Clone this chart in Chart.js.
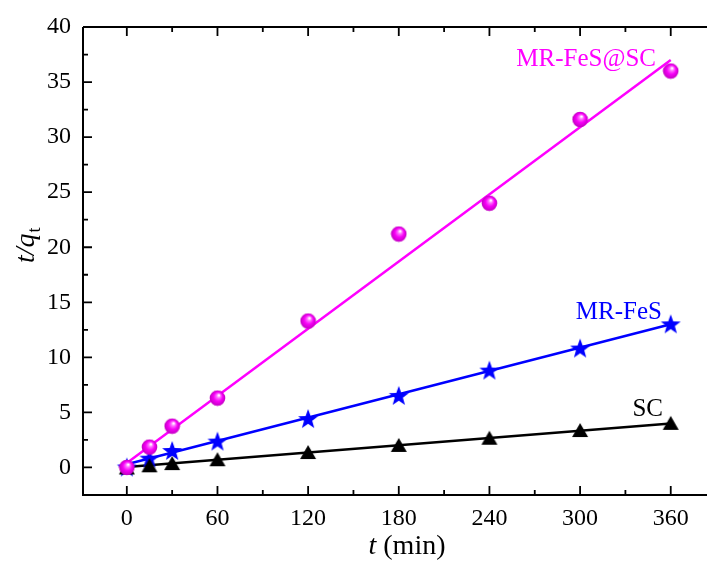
<!DOCTYPE html>
<html><head><meta charset="utf-8">
<script src="https://cdn.jsdelivr.net/npm/chart.js@4.4.0/dist/chart.umd.min.js"></script>
<style>html,body{margin:0;padding:0;background:#fff;overflow:hidden}#wrap{width:707px;height:561px;position:relative}</style>
</head><body><div id="wrap"><canvas id="c" width="707" height="561"></canvas></div>
<script>
const times = [0, 15, 30, 60, 120, 180, 240, 300, 360];
const mrFeSSC = [0, 1.85, 3.75, 6.3, 13.3, 21.2, 24.0, 31.6, 36.0];
const mrFeS = [0, 0.8, 1.5, 2.35, 4.4, 6.5, 8.8, 10.8, 13.0];
const sc = [0, 0.2, 0.4, 0.75, 1.4, 2.05, 2.7, 3.4, 4.05];
const fitX = [0, 360];
const fitMrFeSSC = [0.4, 37.0];
const fitMrFeS = [0.3, 13.0];
const fitSC = [0.05, 4.0];
const xTicks = [0, 60, 120, 180, 240, 300, 360];
const yTicks = [0, 5, 10, 15, 20, 25, 30, 35, 40];
const xMinor = [-30, 30, 90, 150, 210, 270, 330];
const yMinor = [-2.5, 2.5, 7.5, 12.5, 17.5, 22.5, 27.5, 32.5, 37.5];

const FONT = '"Liberation Serif", "Times New Roman", serif';

function mk(w, h, draw) { const c = document.createElement('canvas'); c.width = w; c.height = h; draw(c.getContext('2d')); return c; }
const sphere = mk(17, 17, g => {
  const r = 7.8, cx = 8.5, cy = 8.5;
  const gr = g.createRadialGradient(cx + 1.5, cy - 3, 0.5, cx, cy, r);
  gr.addColorStop(0, '#ffffff'); gr.addColorStop(0.22, '#ff70ff'); gr.addColorStop(0.55, '#f800f8'); gr.addColorStop(1, '#c000c0');
  g.fillStyle = gr; g.beginPath(); g.arc(cx, cy, r, 0, Math.PI * 2); g.fill();
});
const star = mk(22, 22, g => {
  const cx = 11, cy = 11.5, R = 10.5, r = 4.3;
  g.fillStyle = '#0000ff'; g.beginPath();
  for (let i = 0; i < 10; i++) { const a = -Math.PI / 2 + i * Math.PI / 5; const rr = i % 2 ? r : R; g.lineTo(cx + rr * Math.cos(a), cy + rr * Math.sin(a)); }
  g.closePath(); g.fill();
});
const tri = mk(18, 16, g => {
  g.fillStyle = '#000'; g.beginPath(); g.moveTo(9, 1); g.lineTo(17, 15); g.lineTo(1, 15); g.closePath(); g.fill();
});

const pts = (xs, ys) => xs.map((x, i) => ({ x, y: ys[i] }));

const frame = {
  id: 'frame',
  afterDraw(chart) {
    const { ctx, chartArea: a, scales: { x, y } } = chart;
    ctx.save();
    ctx.strokeStyle = '#000'; ctx.lineWidth = 2;
    ctx.beginPath();
    ctx.moveTo(a.left, a.top); ctx.lineTo(a.left, a.bottom); ctx.lineTo(a.right, a.bottom);
    ctx.moveTo(a.left, a.top); ctx.lineTo(a.right, a.top);
    ctx.stroke();
    ctx.lineWidth = 1.8;
    ctx.beginPath();
    xTicks.forEach(v => { const p = x.getPixelForValue(v); ctx.moveTo(p, a.bottom); ctx.lineTo(p, a.bottom - 9); ctx.moveTo(p, a.top); ctx.lineTo(p, a.top + 9); });
    xMinor.forEach(v => { const p = x.getPixelForValue(v); if (p <= a.left + 1) return; ctx.moveTo(p, a.bottom); ctx.lineTo(p, a.bottom - 5); ctx.moveTo(p, a.top); ctx.lineTo(p, a.top + 5); });
    yTicks.forEach(v => { const p = y.getPixelForValue(v); ctx.moveTo(a.left, p); ctx.lineTo(a.left + 9, p); });
    yMinor.forEach(v => { const p = y.getPixelForValue(v); if (p >= a.bottom - 1) return; ctx.moveTo(a.left, p); ctx.lineTo(a.left + 5, p); });
    ctx.stroke();
    // series labels
    ctx.font = '25px ' + FONT; ctx.textAlign = 'right'; ctx.textBaseline = 'alphabetic';
    ctx.fillStyle = '#ff00ff'; ctx.fillText('MR-FeS@SC', 656, 66);
    ctx.fillStyle = '#0000ff'; ctx.fillText('MR-FeS', 662, 319);
    ctx.fillStyle = '#000000'; ctx.fillText('SC', 663, 416);
    // x title
    ctx.fillStyle = '#000';
    ctx.textAlign = 'left';
    const t1 = 't', t2 = ' (min)';
    ctx.font = 'italic 28px ' + FONT; const w1 = ctx.measureText(t1).width;
    ctx.font = '28px ' + FONT; const w2 = ctx.measureText(t2).width;
    let sx = 407 - (w1 + w2) / 2;
    ctx.font = 'italic 28px ' + FONT; ctx.fillText(t1, sx, 554);
    ctx.font = '28px ' + FONT; ctx.fillText(t2, sx + w1, 554);
    // y title
    ctx.save();
    ctx.translate(34, 263); ctx.rotate(-Math.PI / 2);
    ctx.font = 'italic 28px ' + FONT; const wa = ctx.measureText('t/q').width;
    ctx.fillText('t/q', 0, 0);
    ctx.font = '18px ' + FONT; ctx.fillText('t', wa + 1, 6);
    ctx.restore();
    ctx.restore();
  }
};

new Chart(document.getElementById('c'), {
  type: 'scatter',
  data: {
    datasets: [
      { data: pts(fitX, fitMrFeSSC), showLine: true, borderColor: '#ff00ff', borderWidth: 2.5, pointRadius: 0, order: 2 },
      { data: pts(fitX, fitMrFeS), showLine: true, borderColor: '#0000ff', borderWidth: 2.5, pointRadius: 0, order: 2 },
      { data: pts(fitX, fitSC), showLine: true, borderColor: '#000000', borderWidth: 2.5, pointRadius: 0, order: 2 },
      { data: pts(times, sc), pointStyle: tri, pointRadius: 8, order: 1 },
      { data: pts(times, mrFeS), pointStyle: star, pointRadius: 10, order: 1 },
      { data: pts(times, mrFeSSC), pointStyle: sphere, pointRadius: 8, order: 0 }
    ]
  },
  options: {
    responsive: false, animation: false, devicePixelRatio: 1,
    layout: { autoPadding: false, padding: { top: 27, right: 0, left: 0, bottom: 0 } },
    plugins: { legend: { display: false }, tooltip: { enabled: false } },
    scales: {
      x: {
        type: 'linear', min: -29, max: 384,
        afterBuildTicks: s => { s.ticks = xTicks.map(v => ({ value: v })); },
        afterFit: s => { s.height = 66; s.paddingLeft = 0; s.paddingRight = 0; },
        grid: { display: false, drawTicks: false }, border: { display: false },
        ticks: { color: '#000', font: { family: FONT, size: 24 }, padding: 9, maxRotation: 0, autoSkip: false }
      },
      y: {
        type: 'linear', min: -2.5, max: 40,
        afterBuildTicks: s => { s.ticks = yTicks.map(v => ({ value: v })); },
        afterFit: s => { s.width = 83; s.paddingTop = 0; s.paddingBottom = 0; },
        grid: { display: false, drawTicks: false }, border: { display: false },
        ticks: { color: '#000', font: { family: FONT, size: 24 }, padding: 12, autoSkip: false }
      }
    }
  },
  plugins: [frame]
});
</script></body></html>
